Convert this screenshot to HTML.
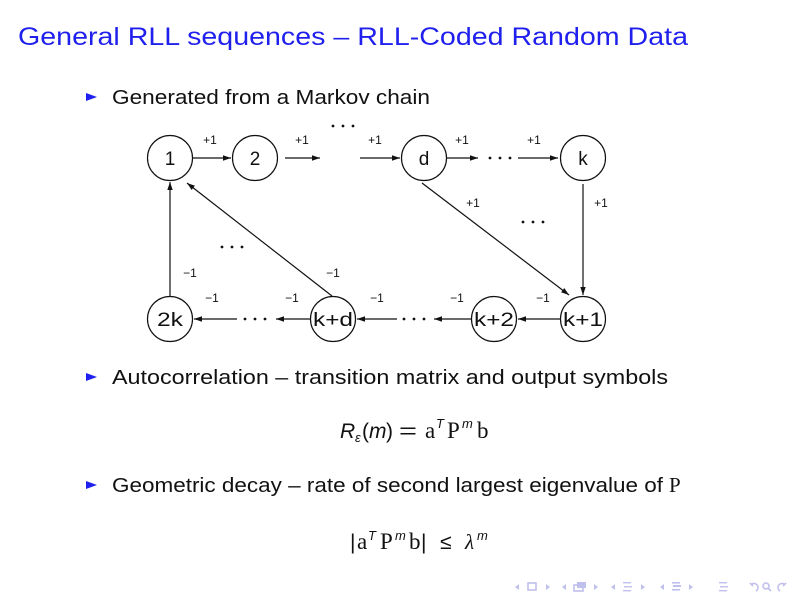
<!DOCTYPE html>
<html>
<head>
<meta charset="utf-8">
<style>
  html, body { margin: 0; padding: 0; background: #ffffff; }
  body { width: 800px; height: 600px; overflow: hidden; }
  svg { display: block; }
  .t { font-family: "Liberation Sans", "DejaVu Sans", sans-serif; fill: #111; }
  .s { font-family: "Liberation Serif", "DejaVu Serif", serif; fill: #111; }
  .lbl { font-family: "Liberation Sans", sans-serif; font-size: 12px; fill: #111; }
  .node { font-family: "Liberation Sans", sans-serif; font-size: 19px; fill: #111; }
</style>
</head>
<body>
<svg width="800" height="600" viewBox="0 0 800 600" xmlns="http://www.w3.org/2000/svg">
  <defs>
    <marker id="ah" markerUnits="userSpaceOnUse" markerWidth="9" markerHeight="8" refX="8" refY="3.5" orient="auto">
      <path d="M0,0.8 L8,3.5 L0,6.2 z" fill="#111"/>
    </marker>
  </defs>

  <!-- Title -->
  <text x="18" y="45" font-size="25" textLength="670" lengthAdjust="spacingAndGlyphs" font-family="Liberation Sans, sans-serif" fill="#1f1fee">General RLL sequences – RLL-Coded Random Data</text>

  <!-- Bullet 1 -->
  <path d="M86,93 L97,97 L86,101 z" fill="#1f1fee"/>
  <text class="t" x="112" y="104" font-size="20" textLength="318" lengthAdjust="spacingAndGlyphs">Generated from a Markov chain</text>

  <!-- Diagram -->
  <g fill="none" stroke="#111" stroke-width="1.2">
    <circle cx="170" cy="158" r="22.5"/>
    <circle cx="255" cy="158" r="22.5"/>
    <circle cx="424" cy="158" r="22.5"/>
    <circle cx="583" cy="158" r="22.5"/>
    <circle cx="170" cy="319" r="22.5"/>
    <circle cx="333" cy="319" r="22.5"/>
    <circle cx="494" cy="319" r="22.5"/>
    <circle cx="583" cy="319" r="22.5"/>
  </g>

  <g class="node" text-anchor="middle">
    <text x="170" y="165">1</text>
    <text x="255" y="165">2</text>
    <text x="424" y="165">d</text>
    <text x="583" y="165">k</text>
    <text x="170" y="326" textLength="26" lengthAdjust="spacingAndGlyphs">2k</text>
    <text x="333" y="326" textLength="40" lengthAdjust="spacingAndGlyphs">k+d</text>
    <text x="494" y="326" textLength="40" lengthAdjust="spacingAndGlyphs">k+2</text>
    <text x="583" y="326" textLength="40" lengthAdjust="spacingAndGlyphs">k+1</text>
  </g>

  <g stroke="#111" stroke-width="1.2" fill="none" marker-end="url(#ah)">
    <line x1="193" y1="158" x2="231" y2="158"/>
    <line x1="285" y1="158" x2="320" y2="158"/>
    <line x1="360" y1="158" x2="400" y2="158"/>
    <line x1="447" y1="158" x2="478" y2="158"/>
    <line x1="518" y1="158" x2="558" y2="158"/>
    <line x1="583" y1="184" x2="583" y2="295"/>
    <line x1="422" y1="183" x2="569" y2="295"/>
    <line x1="560" y1="319" x2="518" y2="319"/>
    <line x1="471" y1="319" x2="434" y2="319"/>
    <line x1="397" y1="319" x2="357" y2="319"/>
    <line x1="310" y1="319" x2="276" y2="319"/>
    <line x1="237" y1="319" x2="194" y2="319"/>
    <line x1="170" y1="296" x2="170" y2="182"/>
    <line x1="332" y1="296" x2="187" y2="183"/>
  </g>

  <g fill="#111">
    <circle cx="333" cy="126" r="1.4"/><circle cx="343" cy="126" r="1.4"/><circle cx="353" cy="126" r="1.4"/>
    <circle cx="490" cy="158" r="1.4"/><circle cx="500" cy="158" r="1.4"/><circle cx="510" cy="158" r="1.4"/>
    <circle cx="523" cy="222" r="1.4"/><circle cx="533" cy="222" r="1.4"/><circle cx="543" cy="222" r="1.4"/>
    <circle cx="222" cy="247" r="1.4"/><circle cx="232" cy="247" r="1.4"/><circle cx="242" cy="247" r="1.4"/>
    <circle cx="245" cy="319" r="1.4"/><circle cx="255" cy="319" r="1.4"/><circle cx="265" cy="319" r="1.4"/>
    <circle cx="404" cy="319" r="1.4"/><circle cx="414" cy="319" r="1.4"/><circle cx="424" cy="319" r="1.4"/>
  </g>

  <g class="lbl" text-anchor="middle">
    <text x="210" y="144">+1</text>
    <text x="302" y="144">+1</text>
    <text x="375" y="144">+1</text>
    <text x="462" y="144">+1</text>
    <text x="534" y="144">+1</text>
    <text x="601" y="207">+1</text>
    <text x="473" y="207">+1</text>
    <text x="543" y="302">−1</text>
    <text x="457" y="302">−1</text>
    <text x="377" y="302">−1</text>
    <text x="292" y="302">−1</text>
    <text x="212" y="302">−1</text>
    <text x="190" y="277">−1</text>
    <text x="333" y="277">−1</text>
  </g>

  <!-- Bullet 2 -->
  <path d="M86,373 L97,377 L86,381 z" fill="#1f1fee"/>
  <text class="t" x="112" y="384" font-size="20" textLength="556" lengthAdjust="spacingAndGlyphs">Autocorrelation – transition matrix and output symbols</text>

  <!-- Formula 1 -->
  <g font-size="21">
    <text class="t" x="340" y="438" font-style="italic">R</text>
    <text class="t" x="355" y="442" font-size="13" font-style="italic">ε</text>
    <text class="t" x="362" y="438">(</text>
    <text class="t" x="369" y="438" font-style="italic">m</text>
    <text class="t" x="386" y="438">)</text>
    <text class="t" x="399" y="438" textLength="18" lengthAdjust="spacingAndGlyphs">=</text>
    <text class="s" x="425" y="438" font-size="23">a</text>
    <text class="t" x="436" y="428" font-size="13" font-style="italic">T</text>
    <text class="s" x="447" y="438" font-size="23">P</text>
    <text class="t" x="462" y="428" font-size="13" font-style="italic">m</text>
    <text class="s" x="477" y="438" font-size="23">b</text>
  </g>

  <!-- Bullet 3 -->
  <path d="M86,481 L97,485 L86,489 z" fill="#1f1fee"/>
  <text class="t" x="112" y="492" font-size="20" textLength="551" lengthAdjust="spacingAndGlyphs">Geometric decay – rate of second largest eigenvalue of</text>
  <text class="s" x="669" y="492" font-size="21">P</text>

  <!-- Formula 2 -->
  <g font-size="21">
    <text class="t" x="350" y="549">|</text>
    <text class="s" x="357" y="549" font-size="23">a</text>
    <text class="t" x="368" y="540" font-size="13" font-style="italic">T</text>
    <text class="s" x="380" y="549" font-size="23">P</text>
    <text class="t" x="395" y="540" font-size="13" font-style="italic">m</text>
    <text class="s" x="409" y="549" font-size="23">b</text>
    <text class="t" x="421" y="549">|</text>
    <text class="t" x="440" y="549">≤</text>
    <text class="s" x="465" y="549" font-style="italic">λ</text>
    <text class="t" x="477" y="540" font-size="13" font-style="italic">m</text>
  </g>

  <!-- Navigation symbols -->
  <g fill="#c0c0ec" stroke="none">
    <path d="M519,584 L515,587 L519,590 z"/>
    <rect x="528" y="583" width="8" height="7" fill="none" stroke="#c0c0ec" stroke-width="1.6"/>
    <path d="M546,584 L550,587 L546,590 z"/>

    <path d="M566,584 L562,587 L566,590 z"/>
    <rect x="574" y="585" width="9" height="6" fill="none" stroke="#c0c0ec" stroke-width="1.6"/>
    <rect x="577" y="582" width="9" height="6" fill="#c0c0ec"/>
    <path d="M594,584 L598,587 L594,590 z"/>

    <path d="M615,584 L611,587 L615,590 z"/>
    <rect x="623" y="582" width="8" height="1.4"/>
    <rect x="624" y="586" width="8" height="1.4"/>
    <rect x="623" y="590" width="8" height="1.4"/>
    <path d="M641,584 L645,587 L641,590 z"/>

    <path d="M664,584 L660,587 L664,590 z"/>
    <rect x="672" y="582" width="8" height="1.6"/>
    <rect x="673" y="585" width="8" height="2"/>
    <rect x="672" y="589" width="8" height="1.6"/>
    <path d="M689,584 L693,587 L689,590 z"/>

    <rect x="719" y="582" width="8" height="1.4"/>
    <rect x="720" y="586" width="8" height="1.4"/>
    <rect x="719" y="590" width="8" height="1.4"/>
  </g>
  <g fill="none" stroke="#c0c0ec" stroke-width="1.6">
    <path d="M752,584 A4,4 0 1 1 756,591"/>
    <path d="M750,583 L753,586"/>
    <circle cx="766" cy="586" r="3"/>
    <path d="M768,588 L771,591"/>
    <path d="M784,584 A4,4 0 1 0 780,591"/>
    <path d="M786,583 L783,586"/>
  </g>
</svg>
</body>
</html>
